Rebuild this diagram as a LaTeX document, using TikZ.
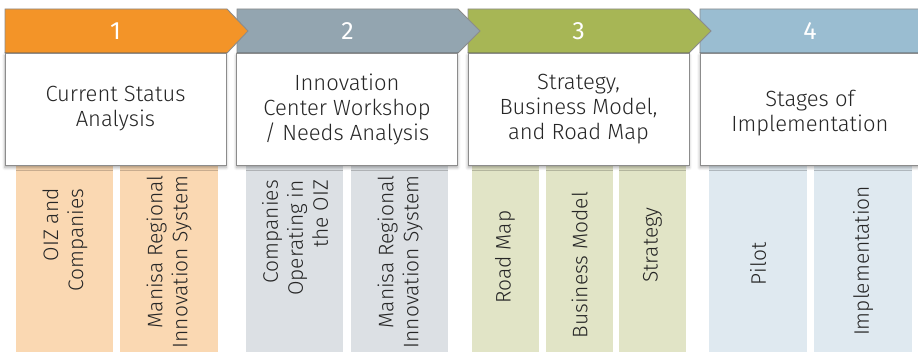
\documentclass[tikz,border=0pt]{standalone}
\usepackage{fontspec}
\setmainfont{Fira Sans Light}[BoldFont=Fira Sans]
\usetikzlibrary{shadows.blur}

\definecolor{orangehd}{HTML}{F39428}
\definecolor{orangelt}{HTML}{FAD8B2}
\definecolor{grayhd}{HTML}{93A5B0}
\definecolor{graylt}{HTML}{DCE0E4}
\definecolor{greenhd}{HTML}{A7B655}
\definecolor{greenlt}{HTML}{E1E4C6}
\definecolor{bluehd}{HTML}{9ABDD1}
\definecolor{bluelt}{HTML}{DFE9F0}
\definecolor{edge}{HTML}{8C8C8C}
\definecolor{ink}{HTML}{262626}

\tikzstyle{header} = [draw=edge, line width=0.9pt, line join=miter]
\tikzstyle{number} = [text=white, font=\fontsize{25}{25}\selectfont\bfseries]
\tikzstyle{panel} = [rectangle, draw=edge, line width=0.9pt, fill=white, minimum width=221pt, minimum height=112pt, text centered, align=center, text=ink, font=\fontsize{22}{25}\selectfont, blur shadow={shadow xshift=0pt, shadow yshift=-2.5pt, shadow blur radius=3pt, shadow opacity=35}]
\tikzstyle{vlabel} = [rotate=90, align=right, inner sep=0pt, text=ink, font=\fontsize{21}{25}\selectfont]

\begin{document}
\begin{tikzpicture}[x=1pt, y=-1pt]
	\useasboundingbox (0,0) rectangle (918,352);

	% columns under the panels
	\fill [orangelt] (16,165) rectangle (113,352);
	\fill [orangelt] (120,165) rectangle (218,352);
	\fill [graylt] (246,165) rectangle (343,352);
	\fill [graylt] (351,165) rectangle (448,352);
	\fill [greenlt] (472,165) rectangle (539,352);
	\fill [greenlt] (546,165) rectangle (613,352);
	\fill [greenlt] (619,165) rectangle (686,352);
	\fill [bluelt] (709,165) rectangle (807,352);
	\fill [bluelt] (814,165) rectangle (912,352);

	\node (oiz) [vlabel] at (65,240) {OIZ and\\Companies};
	\node (manisa1) [vlabel] at (169,262) {Manisa Regional\\Innovation System};
	\node (firms) [vlabel] at (295,238) {Companies\\Operating in\\the OIZ};
	\node (manisa2) [vlabel] at (400,262) {Manisa Regional\\Innovation System};
	\node (roadmap) [vlabel] at (505,257) {Road Map};
	\node (bizmodel) [vlabel] at (579.5,265) {Business Model};
	\node (strategy) [vlabel] at (652.5,245) {Strategy};
	\node (pilot) [vlabel] at (758,264) {Pilot};
	\node (impl) [vlabel] at (863,261) {Implementation};

	% step arrows, last one first so each tip lies on top
	\draw [header, fill=bluehd] (700,9) -- (921,9) -- (943,31) -- (921,53) -- (700,53) -- cycle;
	\draw [header, fill=greenhd] (468,9) -- (689,9) -- (711,31) -- (689,53) -- (468,53) -- cycle;
	\draw [header, fill=grayhd] (237,9) -- (458,9) -- (480,31) -- (458,53) -- (237,53) -- cycle;
	\draw [header, fill=orangehd] (5,9) -- (227,9) -- (248,31) -- (227,53) -- (5,53) -- cycle;

	\node (n1) [number] at (115.5,31) {1};
	\node (n2) [number] at (347.5,31) {2};
	\node (n3) [number] at (578.5,31) {3};
	\node (n4) [number] at (810,31) {4};

	\node (status) [panel] at (115.5,109) {Current Status\\Analysis};
	\node (workshop) [panel] at (347,109) {Innovation\\Center Workshop\\/ Needs Analysis};
	\node (roadplan) [panel] at (578.5,109) {Strategy,\\Business Model,\\and Road Map};
	\node (stages) [panel] at (810.5,109) {};
	\node [text=ink, font=\fontsize{22}{25}\selectfont, align=center] (stagestxt) at (810,113) {Stages of\\Implementation};
\end{tikzpicture}
\end{document}
